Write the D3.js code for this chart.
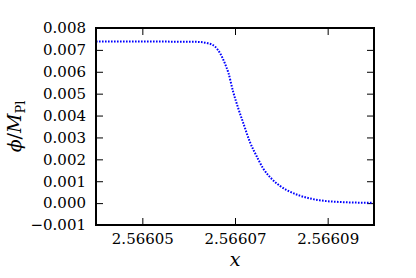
<!DOCTYPE html>
<html>
<head>
<meta charset="utf-8">
<script src="https://cdn.jsdelivr.net/npm/d3@7"></script>
<style>
  body { margin: 0; background: #fff; }
</style>
</head>
<body>
<svg id="chart"></svg>
<script>
// values
const xs = [2.566040, 2.566050, 2.5660614, 2.5660642, 2.5660657, 2.5660668, 2.5660678, 2.5660686,
            2.5660696, 2.5660707, 2.5660718, 2.5660732, 2.5660747, 2.5660761, 2.5660779,
            2.5660797, 2.5660815, 2.5660840, 2.5660883, 2.5660927, 2.566100];
const phi = [0.00738, 0.00738, 0.00737, 0.00730, 0.00715, 0.00684, 0.00639, 0.00593,
             0.00509, 0.00433, 0.00365, 0.00280, 0.00213, 0.00158, 0.00111,
             0.00079, 0.00056, 0.00034, 0.00013, 0.00005, 0.00001];
const xTicks = [2.56605, 2.56607, 2.56609];
const yTicks = [-0.001, 0, 0.001, 0.002, 0.003, 0.004, 0.005, 0.006, 0.007, 0.008];

const FONT = '"DejaVu Serif", serif';

const W = 416, H = 278;
const margin = { top: 28, right: 42, bottom: 53, left: 96 };
const width = W - margin.left - margin.right;
const height = H - margin.top - margin.bottom;

const svg = d3.select('#chart').attr('width', W).attr('height', H);
const g = svg.append('g').attr('transform', `translate(${margin.left},${margin.top})`);

const x = d3.scaleLinear().domain([2.56604, 2.56610]).range([0, width]);
const y = d3.scaleLinear().domain([-0.001, 0.008]).range([height, 0]);

const fmtY = v => (v < 0 ? '\u2212' : '') + Math.abs(v).toFixed(3);

// axes with inward ticks on all four sides
const axBottom = g.append('g').attr('transform', `translate(0,${height})`)
  .call(d3.axisBottom(x).tickValues(xTicks).tickSize(-7).tickPadding(8).tickFormat(d3.format('.5f')));
const axTop = g.append('g')
  .call(d3.axisTop(x).tickValues(xTicks).tickSize(-7).tickFormat(''));
const axLeft = g.append('g')
  .call(d3.axisLeft(y).tickValues(yTicks).tickSize(-7).tickPadding(10).tickFormat(fmtY));
const axRight = g.append('g').attr('transform', `translate(${width},0)`)
  .call(d3.axisRight(y).tickValues(yTicks).tickSize(-7).tickFormat(''));

[axBottom, axTop, axLeft, axRight].forEach(a => {
  a.attr('font-family', FONT).attr('font-size', 15);
  a.select('.domain').remove();
  a.selectAll('line').attr('stroke', '#000').attr('stroke-width', 1);
  a.selectAll('text').attr('fill', '#000');
});

// curve
const line = d3.line()
  .x((d, i) => x(xs[i]))
  .y(d => y(d))
  .curve(d3.curveMonotoneX);

g.append('path')
  .datum(phi)
  .attr('fill', 'none')
  .attr('stroke', '#0000ff')
  .attr('stroke-width', 2)
  .attr('stroke-dasharray', '1.6,1.4')
  .attr('d', line);

// frame
g.append('rect')
  .attr('width', width).attr('height', height)
  .attr('fill', 'none').attr('stroke', '#000').attr('stroke-width', 2);

// axis labels
svg.append('text')
  .attr('x', margin.left + width / 2).attr('y', 266)
  .attr('text-anchor', 'middle').attr('font-size', 19)
  .attr('font-family', FONT).attr('font-style', 'italic').text('x');

const yl = svg.append('text')
  .attr('transform', `translate(21,${margin.top + height / 2}) rotate(-90)`)
  .attr('text-anchor', 'middle').attr('font-size', 19).attr('font-family', FONT);
yl.append('tspan').attr('font-style', 'italic').text('\u03d5');
yl.append('tspan').text('/');
yl.append('tspan').attr('font-style', 'italic').text('M');
yl.append('tspan').attr('font-size', 13).attr('dy', 4).text('Pl');
</script>
</body>
</html>
